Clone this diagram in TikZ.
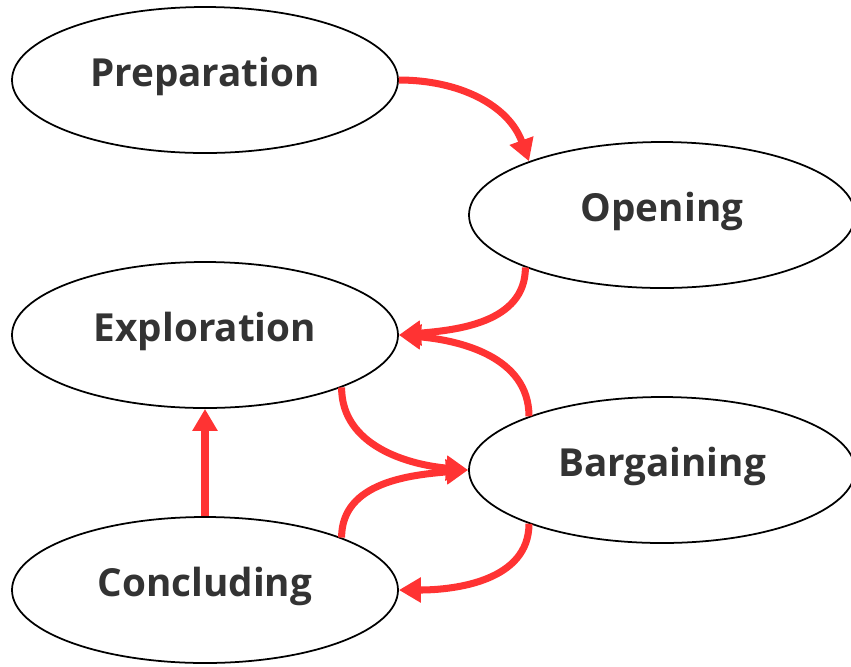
\documentclass[tikz,border=0pt]{standalone}
\usepackage{fontspec}
\setmainfont{Open Sans}
\usetikzlibrary{shapes.geometric,arrows.meta}
\definecolor{flowred}{HTML}{FF3333}
\definecolor{labelgray}{HTML}{333333}
\tikzset{
  stage/.style={draw, ellipse, line width=0.5pt, minimum width=3.86cm, minimum height=1.46cm,
    inner sep=0pt, text height=0.28cm, text depth=0.16cm, text=labelgray,
    font=\fontsize{11}{13}\selectfont\bfseries},
  flow/.style={draw=flowred, line width=2pt, -{Triangle[length=0.22cm,width=0.24cm]}}
}

\begin{document}
\begin{tikzpicture}
  \useasboundingbox (0.00,0.00) rectangle (8.51,-6.66);
  \node[stage] (prep) at (2.05,-0.80) {Preparation};
  \node[stage] (open) at (6.62,-2.15) {Opening};
  \node[stage] (expl) at (2.05,-3.35) {Exploration};
  \node[stage] (barg) at (6.62,-4.70) {Bargaining};
  \node[stage] (concl) at (2.05,-5.90) {Concluding};
  % Draw the transitions
  \draw[flow] (prep.east) to[out=0,in=110] (open.158);
  \draw[flow] (open.201) to[out=-90,in=5] (expl.east);
  \draw[flow] (barg.158) to[out=90,in=-5] (expl.east);
  \draw[flow] (expl.339) to[out=-90,in=175] (barg.west);
  \draw[flow] (concl.21) to[out=90,in=185] (barg.west);
  \draw[flow] (barg.202) to[out=-90,in=0] (concl.east);
  \draw[flow] (concl.north) -- (expl.south);
\end{tikzpicture}
\end{document}
